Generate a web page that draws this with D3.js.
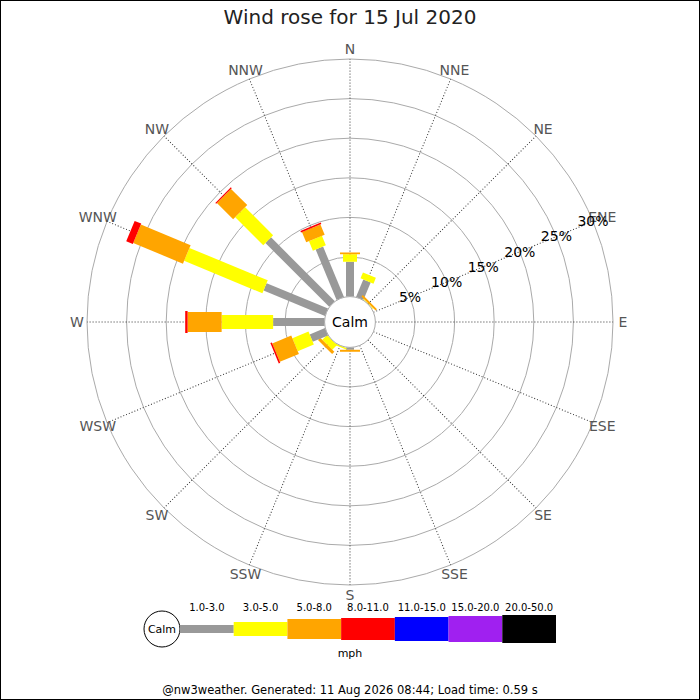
<!DOCTYPE html>
<html>
<head>
<meta charset="utf-8">
<script src="https://cdn.jsdelivr.net/npm/d3@7"></script>
<style>
  body { margin: 0; background: #fff; }
  text { font-family: "DejaVu Sans", sans-serif; }
</style>
</head>
<body>
<div id="rose"></div>
<script>
// 16 compass points, clockwise from N
let dirs = ["N","NNE","NE","ENE","E","ESE","SE","SSE","S","SSW","SW","WSW","W","WNW","NW","NNW"]

// percent of time in each speed band, per direction
let band1 = [4.4, 2.4, 0, 0, 0, 0, 0, 0, 0.3, 0, 0, 2.1, 6.5, 8.4, 11.4, 6.9]
let band2 = [0.95, 0.8, 0.1, 0, 0, 0, 0, 0, 0, 0.2, 0.85, 2.2, 6.5, 10.7, 5.0, 1.3]
let band3 = [0.22, 0, 0.25, 0, 0, 0, 0, 0, 0.25, 0, 0.4, 2.6, 4.3, 6.8, 2.9, 1.4]
let band4 = [0, 0, 0, 0, 0, 0, 0, 0, 0, 0, 0, 0.2, 0.3, 0.9, 0.15, 0.2]
let band5 = [0, 0, 0, 0, 0, 0, 0, 0, 0, 0, 0, 0, 0, 0, 0, 0]
let band6 = [0, 0, 0, 0, 0, 0, 0, 0, 0, 0, 0, 0, 0, 0, 0, 0]
let band7 = [0, 0, 0, 0, 0, 0, 0, 0, 0, 0, 0, 0, 0, 0, 0, 0]

let bandLabels = ["1.0-3.0","3.0-5.0","5.0-8.0","8.0-11.0","11.0-15.0","15.0-20.0","20.0-50.0"]
let bandColors = ["#999999","#ffff00","#ffa500","#ff0000","#0000ff","#a020f0","#000000"]
let bandWidths = [8, 14, 20, 22, 24, 26, 28]

let ringTicks = [5, 10, 15, 20, 25, 30]

let bands = [band1, band2, band3, band4, band5, band6, band7]

var W = 700, H = 700
var cx = 350, cy = 322
var calmR = 25.4

var svg = d3.select("#rose").append("svg")
    .attr("width", W)
    .attr("height", H)

svg.append("rect")
    .attr("x", 0.5).attr("y", 0.5)
    .attr("width", W - 1).attr("height", H - 1)
    .attr("fill", "#fff")
    .attr("stroke", "#000")

svg.append("text")
    .attr("x", W / 2)
    .attr("y", 24)
    .attr("text-anchor", "middle")
    .attr("font-size", 20)
    .attr("fill", "#222")
    .text("Wind rose for 15 Jul 2020")

var r = d3.scaleLinear().domain([0, 30]).range([calmR, 263])
var ang = d3.scalePoint().domain(dirs).range([0, 337.5])

var g = svg.append("g")
    .attr("transform", "translate(" + cx + "," + cy + ")")

// rings
g.selectAll("circle.ring")
    .data(ringTicks)
    .enter().append("circle")
    .attr("class", "ring")
    .attr("r", d => r(d))
    .attr("fill", "none")
    .attr("stroke", "#aaa")
    .attr("stroke-width", 1)

// spokes
g.selectAll("line.spoke")
    .data(dirs)
    .enter().append("line")
    .attr("class", "spoke")
    .attr("x1", 0).attr("y1", -calmR)
    .attr("x2", 0).attr("y2", -r(30))
    .attr("transform", d => "rotate(" + ang(d) + ")")
    .attr("stroke", "#333")
    .attr("stroke-width", 1)
    .attr("stroke-dasharray", "1,2")

// direction labels
g.selectAll("text.dir")
    .data(dirs)
    .enter().append("text")
    .attr("class", "dir")
    .attr("x", d => 273 * Math.sin(ang(d) * Math.PI / 180))
    .attr("y", d => -273 * Math.cos(ang(d) * Math.PI / 180))
    .attr("dy", "0.35em")
    .attr("text-anchor", "middle")
    .attr("font-size", 14)
    .attr("fill", "#555")
    .text(d => d)

// stacked bars
dirs.forEach(function (d, i) {
    var dg = g.append("g").attr("transform", "rotate(" + ang(d) + ")")
    var cum = 0
    bands.forEach(function (b, k) {
        var v = b[i]
        if (v > 0) {
            dg.append("rect")
                .attr("x", -bandWidths[k] / 2)
                .attr("y", -r(cum + v))
                .attr("width", bandWidths[k])
                .attr("height", r(cum + v) - r(cum))
                .attr("fill", bandColors[k])
        }
        cum += v
    })
})

// ring labels along ENE spoke
g.selectAll("text.ringlab")
    .data(ringTicks)
    .enter().append("text")
    .attr("class", "ringlab")
    .attr("x", d => r(d) * Math.sin(67.5 * Math.PI / 180))
    .attr("y", d => -r(d) * Math.cos(67.5 * Math.PI / 180))
    .attr("dy", "0.35em")
    .attr("text-anchor", "middle")
    .attr("font-size", 14)
    .attr("fill", "#000")
    .text(d => d + "%")

// calm circle
g.append("circle")
    .attr("r", calmR)
    .attr("fill", "#fff")
    .attr("stroke", "#aaa")
g.append("text")
    .attr("y", 0)
    .attr("dy", "0.35em")
    .attr("text-anchor", "middle")
    .attr("font-size", 14)
    .attr("fill", "#000")
    .text("Calm")

// legend
var lx = d3.scaleBand().domain(bandLabels).range([180, 556])
var ly = 629
var leg = svg.append("g")
leg.append("circle")
    .attr("cx", 162).attr("cy", ly).attr("r", 18)
    .attr("fill", "#fff").attr("stroke", "#000")
leg.append("text")
    .attr("x", 162).attr("y", ly).attr("dy", "0.35em")
    .attr("text-anchor", "middle").attr("font-size", 11)
    .text("Calm")
leg.selectAll("rect")
    .data(bandLabels)
    .enter().append("rect")
    .attr("x", d => lx(d))
    .attr("y", (d, k) => ly - bandWidths[k] / 2)
    .attr("width", lx.bandwidth())
    .attr("height", (d, k) => bandWidths[k])
    .attr("fill", (d, k) => bandColors[k])
leg.selectAll("text.blab")
    .data(bandLabels)
    .enter().append("text")
    .attr("class", "blab")
    .attr("x", d => lx(d) + lx.bandwidth() / 2)
    .attr("y", 611)
    .attr("text-anchor", "middle")
    .attr("font-size", 10)
    .text(d => d)
leg.append("text")
    .attr("x", 350).attr("y", 657)
    .attr("text-anchor", "middle").attr("font-size", 11)
    .text("mph")

svg.append("text")
    .attr("x", 350).attr("y", 694)
    .attr("text-anchor", "middle")
    .attr("font-size", 11.5)
    .text("@nw3weather. Generated: 11 Aug 2026 08:44; Load time: 0.59 s")
</script>
</body>
</html>
